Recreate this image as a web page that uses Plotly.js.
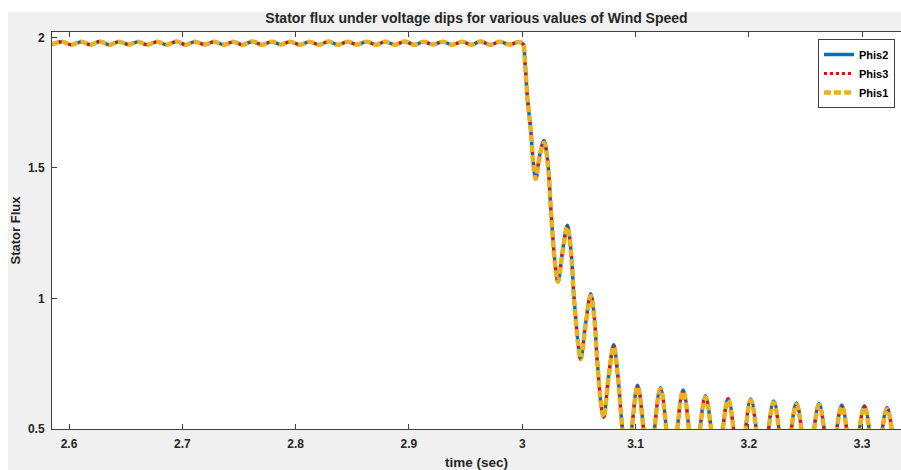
<!DOCTYPE html>
<html>
<head>
<meta charset="utf-8">
<script src="https://cdn.plot.ly/plotly-3.0.1.min.js"></script>
<style>html,body{margin:0;padding:0;background:#fff;}#chart{width:901px;height:470px;}</style>
</head>
<body>
<div id="chart"></div>
<script>
// time samples (s) read at ripple extrema / shape points
var time = [
 2.585, 2.594, 2.602, 2.611, 2.619, 2.627, 2.636, 2.644, 2.653, 2.661,
 2.669, 2.678, 2.686, 2.695, 2.703, 2.711, 2.720, 2.728, 2.737, 2.745,
 2.753, 2.762, 2.770, 2.779, 2.787, 2.795, 2.804, 2.812, 2.821, 2.829,
 2.837, 2.846, 2.854, 2.863, 2.871, 2.879, 2.888, 2.896, 2.905, 2.913,
 2.921, 2.930, 2.938, 2.947, 2.955, 2.963, 2.972, 2.980, 2.989, 2.997,
 3.0005, 3.0025, 3.0045, 3.0075, 3.0098, 3.0119, 3.0155, 3.0192, 3.0225, 3.0254,
 3.0290, 3.0316, 3.0357, 3.0398, 3.0430, 3.0457, 3.0495, 3.0516, 3.0560, 3.0604,
 3.0635, 3.0662, 3.0700, 3.0719, 3.0763, 3.0807, 3.0840, 3.0884, 3.0920, 3.0966,
 3.1019, 3.112, 3.122, 3.132, 3.142, 3.152, 3.1617, 3.172, 3.1817, 3.192,
 3.2017, 3.212, 3.222, 3.232, 3.242, 3.252, 3.262, 3.272, 3.282, 3.292,
 3.302, 3.312, 3.322, 3.332, 3.342
];
var phis2 = [
 1.973, 1.984, 1.972, 1.984, 1.972, 1.985, 1.972, 1.984, 1.973, 1.984,
 1.972, 1.984, 1.972, 1.985, 1.972, 1.984, 1.973, 1.984, 1.972, 1.984,
 1.972, 1.985, 1.972, 1.984, 1.973, 1.984, 1.972, 1.984, 1.972, 1.985,
 1.972, 1.984, 1.973, 1.984, 1.972, 1.984, 1.972, 1.985, 1.972, 1.984,
 1.973, 1.984, 1.972, 1.984, 1.972, 1.985, 1.972, 1.984, 1.973, 1.983,
 1.976, 1.900, 1.773, 1.646, 1.519, 1.458, 1.550, 1.605, 1.525, 1.335,
 1.135, 1.064, 1.185, 1.281, 1.185, 1.005, 0.822, 0.767, 0.905, 1.018,
 0.935, 0.762, 0.580, 0.545, 0.705, 0.823, 0.722, 0.500, 0.360, 0.500,
 0.668, 0.360, 0.658, 0.360, 0.649, 0.360, 0.627, 0.360, 0.617, 0.360,
 0.615, 0.360, 0.607, 0.360, 0.600, 0.360, 0.598, 0.360, 0.592, 0.360,
 0.589, 0.360, 0.582, 0.360, 0.580
];
var phis3 = [
 1.973, 1.984, 1.972, 1.984, 1.972, 1.985, 1.972, 1.984, 1.973, 1.984,
 1.972, 1.984, 1.972, 1.985, 1.972, 1.984, 1.973, 1.984, 1.972, 1.984,
 1.972, 1.985, 1.972, 1.984, 1.973, 1.984, 1.972, 1.984, 1.972, 1.985,
 1.972, 1.984, 1.973, 1.984, 1.972, 1.984, 1.972, 1.985, 1.972, 1.984,
 1.973, 1.984, 1.972, 1.984, 1.972, 1.985, 1.972, 1.984, 1.973, 1.983,
 1.976, 1.900, 1.773, 1.646, 1.519, 1.458, 1.548, 1.601, 1.523, 1.333,
 1.133, 1.064, 1.182, 1.277, 1.183, 1.003, 0.821, 0.767, 0.903, 1.014,
 0.933, 0.761, 0.580, 0.545, 0.703, 0.819, 0.720, 0.500, 0.360, 0.500,
 0.665, 0.360, 0.655, 0.360, 0.646, 0.360, 0.624, 0.360, 0.614, 0.360,
 0.612, 0.360, 0.604, 0.360, 0.597, 0.360, 0.595, 0.360, 0.589, 0.360,
 0.586, 0.360, 0.579, 0.360, 0.577
];
var phis1 = [
 1.973, 1.984, 1.972, 1.984, 1.972, 1.985, 1.972, 1.984, 1.973, 1.984,
 1.972, 1.984, 1.972, 1.985, 1.972, 1.984, 1.973, 1.984, 1.972, 1.984,
 1.972, 1.985, 1.972, 1.984, 1.973, 1.984, 1.972, 1.984, 1.972, 1.985,
 1.972, 1.984, 1.973, 1.984, 1.972, 1.984, 1.972, 1.985, 1.972, 1.984,
 1.973, 1.984, 1.972, 1.984, 1.972, 1.985, 1.972, 1.984, 1.973, 1.983,
 1.976, 1.900, 1.773, 1.646, 1.519, 1.458, 1.545, 1.597, 1.520, 1.330,
 1.130, 1.064, 1.180, 1.273, 1.180, 1.000, 0.820, 0.767, 0.900, 1.010,
 0.930, 0.760, 0.580, 0.545, 0.700, 0.815, 0.718, 0.500, 0.360, 0.500,
 0.662, 0.360, 0.652, 0.360, 0.643, 0.360, 0.621, 0.360, 0.611, 0.360,
 0.609, 0.360, 0.601, 0.360, 0.594, 0.360, 0.592, 0.360, 0.586, 0.360,
 0.583, 0.360, 0.576, 0.360, 0.574
];
var seriesNames = ['Phis2', 'Phis3', 'Phis1'];
var xTickVals = [2.6, 2.7, 2.8, 2.9, 3.0, 3.1, 3.2, 3.3];
var xTickText = ['2.6', '2.7', '2.8', '2.9', '3', '3.1', '3.2', '3.3'];
var yTickVals = [0.5, 1, 1.5, 2];
var yTickText = ['0.5', '1', '1.5', '2'];

var FONT = 'Liberation Sans, Arial, Helvetica, sans-serif';
var traces = [
  {x: time, y: phis2, name: seriesNames[0], type: 'scatter', mode: 'lines',
   line: {color: '#0072BD', width: 3.5, shape: 'spline', smoothing: 1}},
  {x: time, y: phis3, name: seriesNames[1], type: 'scatter', mode: 'lines',
   line: {color: '#FF0000', width: 3, dash: 'dot', shape: 'spline', smoothing: 1}},
  {x: time, y: phis1, name: seriesNames[2], type: 'scatter', mode: 'lines',
   line: {color: '#EDB120', width: 4.5, dash: '7px,3px', shape: 'spline', smoothing: 1}}
];
var plotH = 470 - 32 - 41, plotW = 901 - 52;
var layout = {
  width: 901, height: 470,
  margin: {l: 52, r: 0, t: 32, b: 41, pad: 0},
  paper_bgcolor: '#F0F0F0', plot_bgcolor: '#FFFFFF',
  font: {family: FONT, color: '#262626'},
  showlegend: true,
  title: {text: '<b>Stator flux under voltage dips for various values of Wind Speed</b>',
          font: {size: 14, family: FONT, color: '#262626'},
          x: 0.5, xref: 'paper', xanchor: 'center', y: 1 - 18/470, yref: 'container', yanchor: 'middle'},
  xaxis: {range: [2.585, 3.3343], tickmode: 'array', tickvals: xTickVals, ticktext: xTickText,
          ticks: 'inside', ticklen: 5, tickwidth: 1, tickcolor: '#404040',
          showline: true, linecolor: '#404040', linewidth: 1, mirror: 'ticks',
          showgrid: false, zeroline: false, ticklabelstandoff: 4,
          tickfont: {size: 12, family: FONT, color: '#262626', weight: 'bold'},
          title: {text: '<b>time (sec)</b>', font: {size: 13.5, family: FONT, color: '#262626'}}},
  yaxis: {range: [0.5, 2.021], tickmode: 'array', tickvals: yTickVals, ticktext: yTickText,
          ticks: 'inside', ticklen: 5, tickwidth: 1, tickcolor: '#404040',
          showline: true, linecolor: '#404040', linewidth: 1, mirror: false,
          showgrid: false, zeroline: false, ticklabelstandoff: 4, automargin: true,
          tickfont: {size: 12, family: FONT, color: '#262626', weight: 'bold'},
          title: {text: '<b>Stator Flux</b>', standoff: 4, font: {size: 13, family: FONT, color: '#262626'}}},
  legend: {x: (895 - 52) / plotW, y: 1 - (39 - 32) / plotH, xanchor: 'right', yanchor: 'top',
           bgcolor: '#FFFFFF', bordercolor: '#404040', borderwidth: 1,
           font: {size: 11, family: FONT, color: '#000000', weight: 'bold'},
           itemwidth: 30, tracegroupgap: 0},
  shapes: [
    {type: 'rect', xref: 'paper', yref: 'paper', layer: 'below',
     x0: -0.2, x1: 1.2, y0: 1 + (32 - 12) / plotH, y1: 1.2,
     fillcolor: '#FFFFFF', line: {width: 0}},
    {type: 'rect', xref: 'paper', yref: 'paper', layer: 'below',
     x0: -0.2, x1: -(52 - 8) / plotW, y0: -0.3, y1: 1.2,
     fillcolor: '#FFFFFF', line: {width: 0}}
  ]
};
Plotly.newPlot('chart', traces, layout, {displayModeBar: false, staticPlot: true});
</script>
</body>
</html>
